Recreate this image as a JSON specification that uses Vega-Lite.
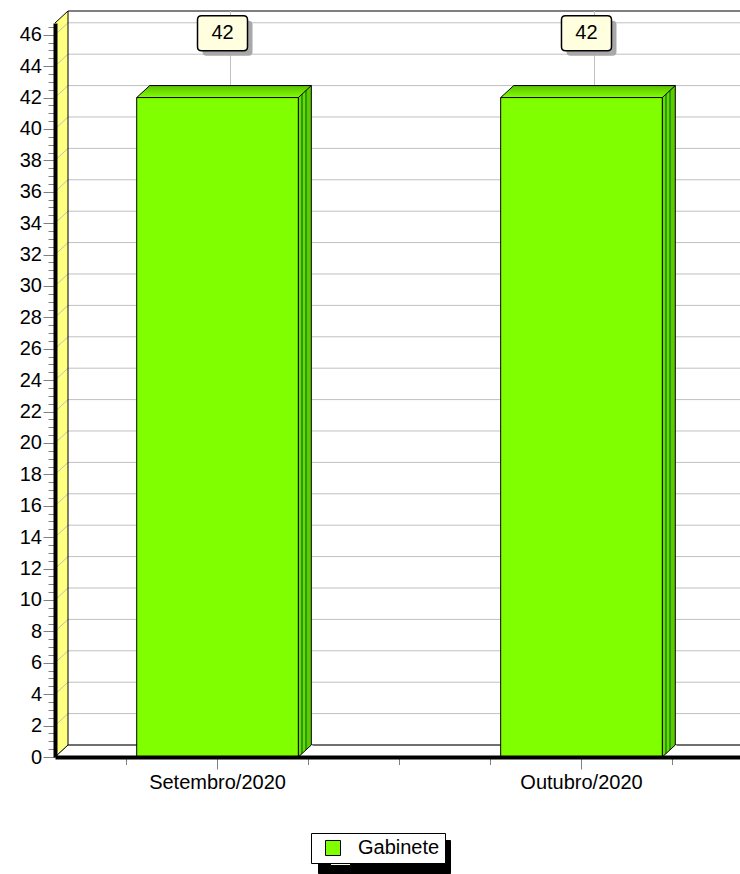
{
  "$schema": "https://vega.github.io/schema/vega-lite/v6.json",
  "width": 689,
  "height": 734,
  "autosize": {"type": "none"},
  "padding": {"left": 55, "top": 23, "right": 0, "bottom": 117},
  "background": "white",
  "config": {
    "view": {"stroke": null},
    "mark": {"opacity": 1},
    "font": "Liberation Sans",
    "axis": {"labelFont": "Liberation Sans"},
    "legend": {"labelFont": "Liberation Sans"}
  },
  "datasets": {
    "barras": [
      {"mes": "Setembro/2020", "serie": "Gabinete", "n": 42},
      {"mes": "Outubro/2020", "serie": "Gabinete", "n": 42}
    ],
    "grade": [
      {"v": 0}, {"v": 2}, {"v": 4}, {"v": 6}, {"v": 8}, {"v": 10}, {"v": 12}, {"v": 14},
      {"v": 16}, {"v": 18}, {"v": 20}, {"v": 22}, {"v": 24}, {"v": 26}, {"v": 28}, {"v": 30},
      {"v": 32}, {"v": 34}, {"v": 36}, {"v": 38}, {"v": 40}, {"v": 42}, {"v": 44}, {"v": 46}
    ],
    "vazio": [{"k": 1}]
  },
  "resolve": {
    "scale": {"x": "independent"},
    "axis": {"x": "independent", "y": "independent"}
  },
  "layer": [
    {
      "layer": [
        {
          "data": {"name": "vazio"},
          "mark": {"type": "rect", "fill": "#FFFF80", "x2Offset": 13, "y2Offset": -12},
          "encoding": {
            "x": {"datum": 0, "type": "quantitative", "scale": {"domain": [0, 1]}, "axis": null},
            "x2": {"datum": 0},
            "y": {
              "datum": 46.75, "type": "quantitative", "scale": {"domain": [0, 46.75], "nice": false},
              "axis": {
                "orient": "left", "title": null, "labels": false, "domain": false, "grid": false,
                "tickColor": "#808080", "tickSize": 7, "tickWidth": 1, "zindex": 1, "tickCount": 500,
                "values": [0,0.5,1,1.5,2,2.5,3,3.5,4,4.5,5,5.5,6,6.5,7,7.5,8,8.5,9,9.5,10,10.5,11,11.5,12,12.5,13,13.5,14,14.5,15,15.5,16,16.5,17,17.5,18,18.5,19,19.5,20,20.5,21,21.5,22,22.5,23,23.5,24,24.5,25,25.5,26,26.5,27,27.5,28,28.5,29,29.5,30,30.5,31,31.5,32,32.5,33,33.5,34,34.5,35,35.5,36,36.5,37,37.5,38,38.5,39,39.5,40,40.5,41,41.5,42,42.5,43,43.5,44,44.5,45,45.5,46,46.5]
              }
            },
            "y2": {"datum": 0}
          }
        },
        {
          "data": {"name": "vazio"},
          "mark": {"type": "point", "shape": "M0,0L13,-12L13,0Z", "size": 4, "filled": true, "fill": "#FFFF80", "strokeWidth": 0, "opacity": 1},
          "encoding": {
            "x": {"datum": 0, "type": "quantitative", "scale": {"domain": [0, 1]}, "axis": null},
            "y": {"datum": 46.75, "type": "quantitative"}
          }
        },
        {
          "data": {"name": "vazio"},
          "mark": {"type": "point", "shape": "M0,0L0,-12L13,-12Z", "size": 4, "filled": true, "fill": "#FFFF80", "strokeWidth": 0, "opacity": 1},
          "encoding": {
            "x": {"datum": 0, "type": "quantitative", "scale": {"domain": [0, 1]}, "axis": null},
            "y": {"datum": 0, "type": "quantitative"}
          }
        },
        {
          "data": {"name": "grade"},
          "mark": {"type": "rule", "stroke": "#C0C0C0", "strokeWidth": 1, "xOffset": 13, "x2Offset": 13, "yOffset": -12},
          "encoding": {
            "x": {"datum": 0, "type": "quantitative", "scale": {"domain": [0, 1]}, "axis": null},
            "x2": {"datum": 1},
            "y": {"field": "v", "type": "quantitative"}
          }
        },
        {
          "data": {"name": "grade"},
          "mark": {"type": "point", "shape": "M0,0L13,-12", "size": 4, "filled": false, "stroke": "#C0C0C0", "strokeWidth": 1, "opacity": 1},
          "encoding": {
            "x": {"datum": 0, "type": "quantitative", "scale": {"domain": [0, 1]}, "axis": null},
            "y": {"field": "v", "type": "quantitative"}
          }
        },
        {
          "data": {"name": "vazio"},
          "mark": {"type": "rule", "stroke": "black", "strokeWidth": 1, "xOffset": 13, "x2Offset": 13, "yOffset": -12},
          "encoding": {
            "x": {"datum": 0, "type": "quantitative", "scale": {"domain": [0, 1]}, "axis": null},
            "x2": {"datum": 1},
            "y": {"datum": 46.75, "type": "quantitative"}
          }
        },
        {
          "data": {"name": "vazio"},
          "mark": {"type": "rule", "stroke": "black", "strokeWidth": 1, "xOffset": 13, "x2Offset": 13, "yOffset": -12},
          "encoding": {
            "x": {"datum": 0, "type": "quantitative", "scale": {"domain": [0, 1]}, "axis": null},
            "x2": {"datum": 1},
            "y": {"datum": 0, "type": "quantitative"}
          }
        },
        {
          "data": {"name": "vazio"},
          "mark": {"type": "rule", "stroke": "black", "strokeWidth": 1, "xOffset": 13, "yOffset": -12, "y2Offset": -12},
          "encoding": {
            "x": {"datum": 0, "type": "quantitative", "scale": {"domain": [0, 1]}, "axis": null},
            "y": {"datum": 46.75, "type": "quantitative"},
            "y2": {"datum": 0}
          }
        },
        {
          "data": {"name": "vazio"},
          "mark": {"type": "point", "shape": "M0,0L13,-12", "size": 4, "filled": false, "stroke": "black", "strokeWidth": 1, "opacity": 1},
          "encoding": {
            "x": {"datum": 0, "type": "quantitative", "scale": {"domain": [0, 1]}, "axis": null},
            "y": {"datum": 46.75, "type": "quantitative"}
          }
        },
        {
          "data": {"name": "vazio"},
          "mark": {"type": "point", "shape": "M0,0L13,-12", "size": 4, "filled": false, "stroke": "black", "strokeWidth": 1, "opacity": 1},
          "encoding": {
            "x": {"datum": 0, "type": "quantitative", "scale": {"domain": [0, 1]}, "axis": null},
            "y": {"datum": 0, "type": "quantitative"}
          }
        }
      ]
    },
    {
      "data": {"name": "barras"},
      "layer": [
        {
          "mark": {"type": "bar", "stroke": "black", "strokeWidth": 1, "opacity": 0},
          "encoding": {
            "x": {
              "field": "mes", "type": "nominal", "sort": ["Setembro/2020", "Outubro/2020"],
              "scale": {"type": "band", "paddingInner": 0.556, "paddingOuter": 0.2245},
              "axis": {
                "title": null, "orient": "bottom", "domainColor": "black", "domainWidth": 4,
                "tickColor": "#808080", "tickSize": 12, "tickWidth": 1, "labelFontSize": 20,
                "labelColor": "black", "labelPadding": 3, "labelAngle": 0, "grid": false, "zindex": 1
              }
            },
            "y": {
              "field": "n", "type": "quantitative", "stack": null,
              "scale": {"domain": [0, 46.75], "nice": false},
              "axis": {
                "orient": "left", "title": null, "grid": false, "domainColor": "black", "domainWidth": 4,
                "tickColor": "#808080", "tickWidth": 1, "tickSize": 12, "labelFontSize": 20, "format": "d",
                "labelColor": "black", "labelPadding": 1.5, "zindex": 2, "labelOverlap": false, "tickCount": 500,
                "values": [0,2,4,6,8,10,12,14,16,18,20,22,24,26,28,30,32,34,36,38,40,42,44,46]
              }
            }
          }
        },
        {
          "mark": {"type": "rule", "stroke": "#C0C0C0", "strokeWidth": 1, "xOffset": 13, "yOffset": -12, "y2Offset": -12},
          "encoding": {
            "x": {"field": "mes", "type": "nominal", "sort": ["Setembro/2020", "Outubro/2020"]},
            "y": {"datum": 46.75, "type": "quantitative"},
            "y2": {"datum": 0}
          }
        },
        {
          "mark": {
            "type": "bar", "width": 13, "xOffset": 87.3, "yOffset": -12,
            "stroke": "black", "strokeWidth": 1,
            "fill": {"gradient": "linear", "x1": 0, "y1": 0, "x2": 1, "y2": 0, "stops": [
              {"offset": 0, "color": "#66DD00"}, {"offset": 0.2, "color": "#66DD00"},
              {"offset": 0.2, "color": "#2E9900"}, {"offset": 0.33, "color": "#2E9900"},
              {"offset": 0.33, "color": "#66DD00"}, {"offset": 0.52, "color": "#66DD00"},
              {"offset": 0.52, "color": "#2E9900"}, {"offset": 0.66, "color": "#2E9900"},
              {"offset": 0.66, "color": "#5CCC00"}, {"offset": 1, "color": "#5CCC00"}
            ]}
          },
          "encoding": {
            "x": {"field": "mes", "type": "nominal", "sort": ["Setembro/2020", "Outubro/2020"]},
            "y": {"field": "n", "type": "quantitative", "stack": null}
          }
        },
        {
          "mark": {"type": "point", "shape": "M80.8,0L93.8,-12L95,-12L95,1.5L80.8,1.5Z", "size": 4, "filled": true, "fill": "white", "strokeWidth": 0, "opacity": 1},
          "encoding": {
            "x": {"field": "mes", "type": "nominal", "sort": ["Setembro/2020", "Outubro/2020"]},
            "y": {"datum": 0, "type": "quantitative"}
          }
        },
        {
          "mark": {"type": "point", "shape": "M80.8,0L93.8,-12", "size": 4, "filled": false, "stroke": "black", "strokeWidth": 1, "opacity": 1},
          "encoding": {
            "x": {"field": "mes", "type": "nominal", "sort": ["Setembro/2020", "Outubro/2020"]},
            "y": {"datum": 0, "type": "quantitative"}
          }
        },
        {
          "mark": {
            "type": "point", "shape": "M-80.8,0L80.8,0L93.8,-12L-67.8,-12Z", "size": 4, "filled": true,
            "stroke": "black", "strokeWidth": 1, "opacity": 1,
            "fill": {"gradient": "linear", "x1": 0, "y1": 0, "x2": 0, "y2": 1, "stops": [
              {"offset": 0, "color": "#5CC000"}, {"offset": 1, "color": "#80FF00"}
            ]}
          },
          "encoding": {
            "x": {"field": "mes", "type": "nominal", "sort": ["Setembro/2020", "Outubro/2020"]},
            "y": {"field": "n", "type": "quantitative"}
          }
        },
        {
          "mark": {"type": "bar", "stroke": "black", "strokeWidth": 1},
          "encoding": {
            "x": {"field": "mes", "type": "nominal", "sort": ["Setembro/2020", "Outubro/2020"]},
            "y": {"field": "n", "type": "quantitative", "stack": null},
            "color": {
              "field": "serie", "type": "nominal", "scale": {"range": ["#80FF00"]},
              "legend": {
                "title": null, "orient": "none", "legendX": 256, "legendY": 810, "direction": "horizontal",
                "symbolType": "square", "symbolSize": 225, "symbolStrokeColor": "black", "symbolStrokeWidth": 1,
                "labelFontSize": 20, "labelColor": "black", "labelOffset": 15, "symbolOffset": 7,
                "padding": 5, "strokeColor": "black", "fillColor": "white", "zindex": 2
              }
            }
          }
        },
        {
          "mark": {"type": "rule", "stroke": "#808080", "strokeWidth": 1, "xOffset": -91, "y2Offset": 8},
          "encoding": {
            "x": {"field": "mes", "type": "nominal", "sort": ["Setembro/2020", "Outubro/2020"]},
            "y": {"datum": 0, "type": "quantitative"},
            "y2": {"datum": 0}
          }
        },
        {
          "mark": {"type": "rule", "stroke": "#808080", "strokeWidth": 1, "xOffset": 91, "y2Offset": 8},
          "encoding": {
            "x": {"field": "mes", "type": "nominal", "sort": ["Setembro/2020", "Outubro/2020"]},
            "y": {"datum": 0, "type": "quantitative"},
            "y2": {"datum": 0}
          }
        },
        {
          "transform": [{"filter": "datum.mes === 'Setembro/2020'"}],
          "mark": {"type": "rule", "stroke": "#808080", "strokeWidth": 1, "xOffset": 182, "y2Offset": 8},
          "encoding": {
            "x": {"field": "mes", "type": "nominal", "sort": ["Setembro/2020", "Outubro/2020"]},
            "y": {"datum": 0, "type": "quantitative"},
            "y2": {"datum": 0}
          }
        },
        {
          "mark": {"type": "point", "shape": "M-21,-17.5L21,-17.5Q25,-17.5 25,-13.5L25,13.5Q25,17.5 21,17.5L-21,17.5Q-25,17.5 -25,13.5L-25,-13.5Q-25,-17.5 -21,-17.5Z", "size": 4, "filled": true, "fill": "#A8A8A8", "strokeWidth": 0, "opacity": 1, "xOffset": 10, "yOffset": -59.3},
          "encoding": {
            "x": {"field": "mes", "type": "nominal", "sort": ["Setembro/2020", "Outubro/2020"]},
            "y": {"field": "n", "type": "quantitative"}
          }
        },
        {
          "mark": {"type": "point", "shape": "M-21,-17.5L21,-17.5Q25,-17.5 25,-13.5L25,13.5Q25,17.5 21,17.5L-21,17.5Q-25,17.5 -25,13.5L-25,-13.5Q-25,-17.5 -21,-17.5Z", "size": 4, "filled": true, "fill": "#FFFFE0", "strokeWidth": 1.5, "opacity": 1, "xOffset": 5, "yOffset": -64.3},
          "encoding": {
            "x": {"field": "mes", "type": "nominal", "sort": ["Setembro/2020", "Outubro/2020"]},
            "y": {"field": "n", "type": "quantitative"},
            "stroke": {
              "field": "serie", "type": "nominal", "scale": {"range": ["#000000"]},
              "legend": {
                "title": null, "orient": "none", "legendX": 263, "legendY": 817, "direction": "horizontal",
                "symbolType": "square", "symbolSize": 400, "symbolStrokeColor": "black", "symbolFillColor": "black", "symbolStrokeWidth": 1,
                "labelFontSize": 20, "labelOffset": 94, "symbolOffset": 7,
                "padding": 5, "strokeColor": "black", "fillColor": "black", "zindex": 1,
                "labelExpr": "''"
              }
            }
          }
        },
        {
          "mark": {"type": "text", "fontSize": 20, "font": "Liberation Sans", "color": "black", "align": "center", "baseline": "middle", "xOffset": 5, "yOffset": -64.3},
          "encoding": {
            "x": {"field": "mes", "type": "nominal", "sort": ["Setembro/2020", "Outubro/2020"]},
            "y": {"field": "n", "type": "quantitative"},
            "text": {"field": "n", "type": "quantitative"}
          }
        }
      ]
    }
  ]
}
